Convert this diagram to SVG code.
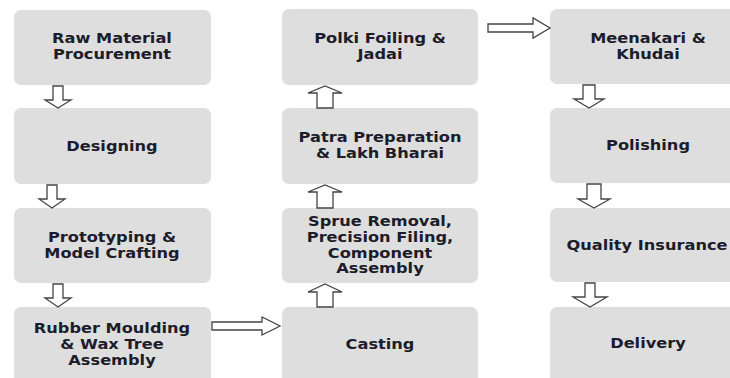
<svg xmlns="http://www.w3.org/2000/svg" width="730" height="378" viewBox="0 0 730 378">
<style>
.box{fill:#dedede;}
.t{font-family:"DejaVu Sans","Liberation Sans",sans-serif;font-weight:bold;font-size:13.5px;fill:#1c1c2a;text-anchor:middle;}
.arr{fill:#ffffff;stroke:#444444;stroke-width:1.3;stroke-linejoin:miter;}
</style>
<rect width="730" height="378" fill="#ffffff"/>
<g id="n1"><rect class="box" x="14" y="10" width="197" height="75" rx="7"/><text class="t" transform="translate(112,43) scale(1.2,1)">Raw Material</text><text class="t" transform="translate(112,59) scale(1.2,1)">Procurement</text></g>
<g id="n2"><rect class="box" x="14" y="108" width="197" height="76" rx="7"/><text class="t" transform="translate(112,151) scale(1.2,1)">Designing</text></g>
<g id="n3"><rect class="box" x="14" y="208" width="197" height="75" rx="7"/><text class="t" transform="translate(112,242) scale(1.2,1)">Prototyping &amp;</text><text class="t" transform="translate(112,258) scale(1.2,1)">Model Crafting</text></g>
<g id="n4"><rect class="box" x="14" y="307" width="197" height="80" rx="7"/><text class="t" transform="translate(112,333) scale(1.2,1)">Rubber Moulding</text><text class="t" transform="translate(112,349) scale(1.2,1)">&amp; Wax Tree</text><text class="t" transform="translate(112,365) scale(1.2,1)">Assembly</text></g>
<g id="n5"><rect class="box" x="282" y="307" width="196" height="80" rx="7"/><text class="t" transform="translate(380,349) scale(1.2,1)">Casting</text></g>
<g id="n6"><rect class="box" x="282" y="208" width="196" height="75" rx="7"/><text class="t" transform="translate(380,226) scale(1.2,1)">Sprue Removal,</text><text class="t" transform="translate(380,242) scale(1.2,1)">Precision Filing,</text><text class="t" transform="translate(380,257.5) scale(1.2,1)">Component</text><text class="t" transform="translate(380,273) scale(1.2,1)">Assembly</text></g>
<g id="n7"><rect class="box" x="282" y="108" width="196" height="76" rx="7"/><text class="t" transform="translate(380,142) scale(1.2,1)">Patra Preparation</text><text class="t" transform="translate(380,158) scale(1.2,1)">&amp; Lakh Bharai</text></g>
<g id="n8"><rect class="box" x="282" y="9" width="196" height="76" rx="7"/><text class="t" transform="translate(380,43) scale(1.2,1)">Polki Foiling &amp;</text><text class="t" transform="translate(380,59) scale(1.2,1)">Jadai</text></g>
<g id="n9"><rect class="box" x="550" y="9" width="196" height="75" rx="7"/><text class="t" transform="translate(648,43) scale(1.2,1)">Meenakari &amp;</text><text class="t" transform="translate(648,59) scale(1.2,1)">Khudai</text></g>
<g id="n10"><rect class="box" x="550" y="108" width="196" height="75" rx="7"/><text class="t" transform="translate(648,150) scale(1.2,1)">Polishing</text></g>
<g id="n11"><rect class="box" x="550" y="208" width="196" height="74" rx="7"/><text class="t" transform="translate(647,250) scale(1.2,1)">Quality Insurance</text></g>
<g id="n12"><rect class="box" x="550" y="307" width="196" height="80" rx="7"/><text class="t" transform="translate(648,348) scale(1.2,1)">Delivery</text></g>
<g id="connectors">
<path class="arr" d="M53,86 H63 V100 H71 L58,108 L45,100 H53 Z"/>
<path class="arr" d="M47,185 H57 V199 H65 L52,208 L39,199 H47 Z"/>
<path class="arr" d="M53,284 H63 V298 H71 L58,307 L45,298 H53 Z"/>
<path class="arr" d="M212,322 H262 V317 L280,326 L262,335 V330 H212 Z"/>
<path class="arr" d="M317,307 H333 V292 H342 L325,284 L308,292 H317 Z"/>
<path class="arr" d="M317,208 H333 V192 H342 L325,185 L308,192 H317 Z"/>
<path class="arr" d="M317,108 H333 V93 H342 L325,86 L308,93 H317 Z"/>
<path class="arr" d="M488,24 H533 V18 L550,28 L533,38 V32 H488 Z"/>
<path class="arr" d="M583,85 H595 V99 H604 L589,108 L574,99 H583 Z"/>
<path class="arr" d="M587,184 H601 V199 H610 L594,208 L578,199 H587 Z"/>
<path class="arr" d="M585,283 H595 V297 H607 L590,307 L573,297 H585 Z"/>
</g>
</svg>
